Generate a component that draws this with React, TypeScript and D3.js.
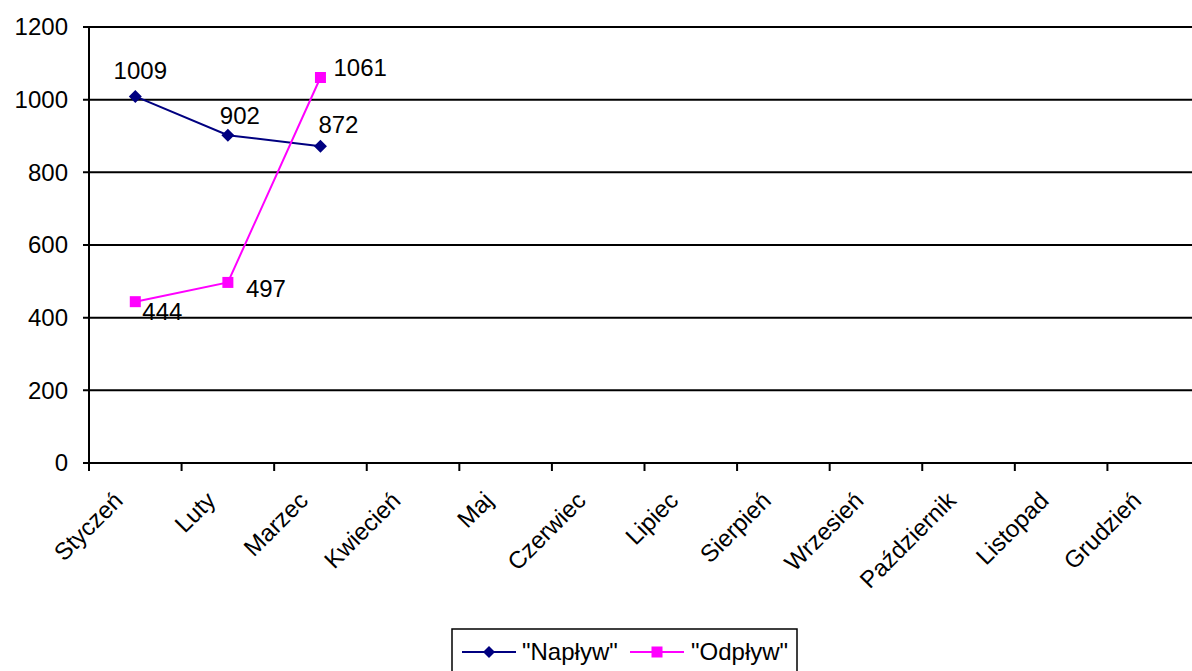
import React from "react";
import * as d3 from "d3";

const months = ["Styczeń", "Luty", "Marzec", "Kwiecień", "Maj", "Czerwiec", "Lipiec", "Sierpień", "Wrzesień", "Październik", "Listopad", "Grudzień"];
const naplyw = [1009, 902, 872];
const odplyw = [444, 497, 1061];
const yTicks = [0, 200, 400, 600, 800, 1000, 1200];
const seriesNames = ['"Napływ"', '"Odpływ"'];

// label offsets (style), relative to the point
const naplywLabelOffsets = [[5, -17, "middle"], [12, -11, "middle"], [18, -13, "middle"]];
const odplywLabelOffsets = [[7, 18, "start"], [18, 15, "start"], [13, -2, "start"]];

const W = 1192, H = 671;
const FONT = "Arial, 'Liberation Sans', sans-serif";

export default function App() {
  const x = d3.scaleBand<string>().domain(months).range([89, 1200]);
  const y = d3.scaleLinear().domain([0, 1200]).range([463, 27]);
  const cx = (i: number) => (x(months[i]) as number) + x.bandwidth() / 2;
  const line = d3.line<number>().x((_, i) => cx(i)).y((d) => y(d));
  const navy = "#000080";
  const mag = "#FF00FF";
  const diamond = (px: number, py: number, r = 6.5) => `M${px},${py - r}L${px + r},${py}L${px},${py + r}L${px - r},${py}Z`;

  return (
    <svg width={W} height={H} style={{ position: "absolute", left: 0, top: 0, background: "#fff" }} fontFamily={FONT}>
      {yTicks.map((t) => (
        <g key={t}>
          <line x1={83} x2={1200} y1={y(t)} y2={y(t)} stroke="#000" strokeWidth={2} />
          <text x={68} y={y(t)} dy="0.35em" textAnchor="end" fontSize={24} fill="#000">{t}</text>
        </g>
      ))}
      <line x1={89} x2={89} y1={y(1200)} y2={y(0)} stroke="#000" strokeWidth={2} />
      {months.map((m, i) => {
        const x0 = x(m) as number;
        return (
          <g key={m}>
            <line x1={x0} x2={x0} y1={463} y2={471} stroke="#000" strokeWidth={2} />
            <text transform={`translate(${cx(i) - 11},${502}) rotate(-45)`} textAnchor="end" fontSize={24} fill="#000">{m}</text>
          </g>
        );
      })}
      <path d={line(naplyw) || ""} fill="none" stroke={navy} strokeWidth={2} />
      {naplyw.map((v, i) => (
        <path key={i} d={diamond(cx(i), y(v))} fill={navy} />
      ))}
      <path d={line(odplyw) || ""} fill="none" stroke={mag} strokeWidth={2} />
      {odplyw.map((v, i) => (
        <rect key={i} x={cx(i) - 5.5} y={y(v) - 5.5} width={11} height={11} fill={mag} />
      ))}
      {naplyw.map((v, i) => (
        <text key={i} x={cx(i) + (naplywLabelOffsets[i][0] as number)} y={y(v) + (naplywLabelOffsets[i][1] as number)} textAnchor={naplywLabelOffsets[i][2] as string} fontSize={24} fill="#000">{v}</text>
      ))}
      {odplyw.map((v, i) => (
        <text key={i} x={cx(i) + (odplywLabelOffsets[i][0] as number)} y={y(v) + (odplywLabelOffsets[i][1] as number)} textAnchor={odplywLabelOffsets[i][2] as string} fontSize={24} fill="#000">{v}</text>
      ))}
      <rect x={452} y={629} width={345} height={60} fill="#fff" stroke="#000" strokeWidth={1.5} />
      <line x1={462} x2={516} y1={652} y2={652} stroke={navy} strokeWidth={2} />
      <path d={diamond(489, 652, 6)} fill={navy} />
      <text x={522} y={660} fontSize={24} fill="#000">{seriesNames[0]}</text>
      <line x1={630} x2={684} y1={652} y2={652} stroke={mag} strokeWidth={2} />
      <rect x={651.5} y={646.5} width={11} height={11} fill={mag} />
      <text x={691} y={660} fontSize={24} fill="#000">{seriesNames[1]}</text>
    </svg>
  );
}
